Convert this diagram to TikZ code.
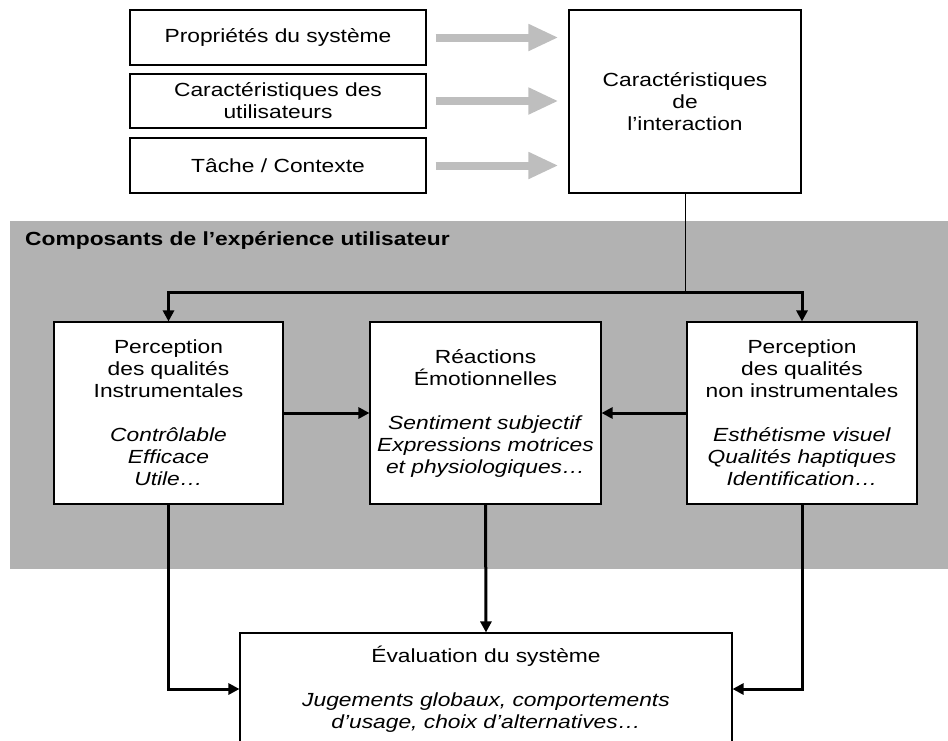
\documentclass[tikz,border=0pt]{standalone}
\usepackage{fontspec}
\setmainfont[FakeStretch=1.2]{Liberation Sans}
\usetikzlibrary{arrows.meta}
\definecolor{bggray}{RGB}{178,178,178}
\definecolor{arrgray}{RGB}{190,190,190}
\begin{document}
\begin{tikzpicture}[x=1pt,y=-1pt,
  txt/.style={font=\fontsize{19}{22}\selectfont},
  box/.style={draw=black, line width=1.1pt, fill=white, inner sep=0pt, align=center, txt},
  conn/.style={line width=3pt, -{Triangle[length=11pt,width=11pt]}},
  garrow/.style={draw=arrgray, line width=8pt, -{Triangle[length=30pt,width=25pt]}, shorten <=9pt, shorten >=10pt}
]
\path[use as bounding box] (0,0) rectangle (948,740);
\clip (0,0) rectangle (948,740);

% gray background
\fill[bggray] (10,221) rectangle (948,569);
\node[anchor=base west, font=\fontsize{19}{22}\selectfont\bfseries, inner sep=0pt] (title) at (25,245) {Composants de l’expérience utilisateur};

% top boxes
\node[box, minimum width=296pt, minimum height=55pt] (b1) at (278,37.5) {Propriétés du système};
\node[box, minimum width=296pt, minimum height=54pt] (b2) at (278,101) {Caractéristiques des\\utilisateurs};
\node[box, minimum width=296pt, minimum height=55pt] (b3) at (278,165.5) {Tâche / Contexte};
\node[box, minimum width=232pt, minimum height=183pt] (tr) at (685,101.5) {Caractéristiques\\de\\l’interaction};

\draw[garrow] (b1.east) -- (b1.east -| tr.west);
\draw[garrow] (b2.east) -- (b2.east -| tr.west);
\draw[garrow] (b3.east) -- (b3.east -| tr.west);

% component boxes
\node[box, minimum width=229pt, minimum height=182pt] (L) at (168.5,413) {Perception\\des qualités\\Instrumentales\\[22pt]\textit{Contrôlable}\\\textit{Efficace}\\\textit{Utile…}};
\node[box, minimum width=231pt, minimum height=182pt] (M) at (485.5,413) {Réactions\\Émotionnelles\\[22pt]\textit{Sentiment subjectif}\\\textit{Expressions motrices}\\\textit{et physiologiques…}};
\node[box, minimum width=230pt, minimum height=182pt] (R) at (802,413) {Perception\\des qualités\\non instrumentales\\[22pt]\textit{Esthétisme visuel}\\\textit{Qualités haptiques}\\\textit{Identification…}};

% evaluation box
\node[box, minimum width=492pt, minimum height=112pt] (E) at (486,689) {Évaluation du système\\[22pt]\textit{Jugements globaux, comportements}\\\textit{d’usage, choix d’alternatives…}};

% connectors
\coordinate (j) at (tr.south |- 0,292);
\draw[line width=1pt] (tr.south) -- (j);
\draw[conn] (j) -| (L.north);
\draw[conn] (j) -| (R.north);
\draw[conn] (L.east) -- (M.west);
\draw[conn] (R.west) -- (M.east);
\draw[conn] (M.south) -- (E.north);
\draw[conn] (L.south) |- (E.west);
\draw[conn] (R.south) |- (E.east);
\end{tikzpicture}
\end{document}
